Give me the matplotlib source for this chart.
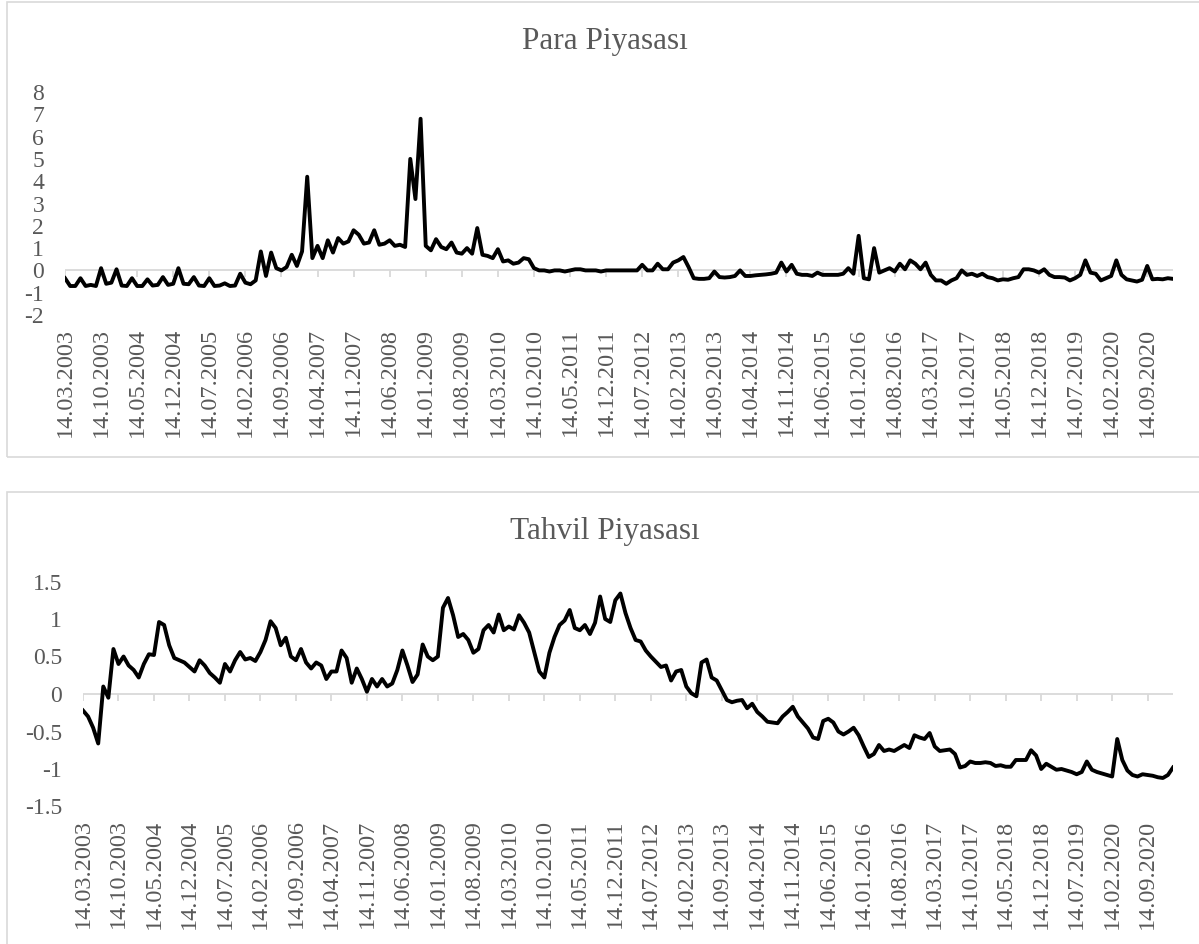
import matplotlib
matplotlib.use("Agg")
import matplotlib.pyplot as plt
from matplotlib.patches import Rectangle

plt.rcParams['font.family'] = ['Liberation Serif', 'DejaVu Serif']

# monthly observations, first one is 14.03.2003
start_year, start_month = 2003, 3

para = [
    -0.35, -0.7, -0.7, -0.35, -0.7, -0.65, -0.7, 0.1, -0.6, -0.55,
    0.05, -0.68, -0.7, -0.35, -0.7, -0.7, -0.4, -0.68, -0.65, -0.3,
    -0.65, -0.6, 0.1, -0.6, -0.62, -0.3, -0.68, -0.7, -0.35, -0.7,
    -0.68, -0.58, -0.7, -0.68, -0.15, -0.55, -0.62, -0.45, 0.85, -0.25,
    0.8, 0.1, 0.0, 0.15, 0.7, 0.2, 0.85, 4.2, 0.55, 1.1,
    0.55, 1.35, 0.8, 1.45, 1.2, 1.3, 1.8, 1.6, 1.2, 1.25,
    1.8, 1.15, 1.2, 1.35, 1.1, 1.15, 1.05, 5.0, 3.2, 6.8,
    1.1, 0.9, 1.4, 1.05, 0.95, 1.25, 0.8, 0.75, 1.0, 0.75,
    1.9, 0.7, 0.65, 0.55, 0.95, 0.4, 0.45, 0.3, 0.35, 0.55,
    0.5, 0.1, 0.0, 0.0, -0.05, 0.0, 0.0, -0.05, 0.0, 0.05,
    0.05, 0.0, 0.0, 0.0, -0.05, 0.0, 0.0, 0.0, 0.0, 0.0,
    0.0, 0.0, 0.25, 0.0, 0.0, 0.3, 0.05, 0.05, 0.35, 0.45,
    0.6, 0.15, -0.35, -0.38, -0.38, -0.35, -0.05, -0.3, -0.32, -0.3,
    -0.25, 0.0, -0.25, -0.25, -0.22, -0.2, -0.18, -0.15, -0.1, 0.35,
    -0.05, 0.25, -0.15, -0.2, -0.2, -0.25, -0.1, -0.2, -0.2, -0.2,
    -0.2, -0.15, 0.1, -0.15, 1.55, -0.35, -0.4, 1.0, -0.1, 0.0,
    0.1, -0.05, 0.3, 0.05, 0.45, 0.3, 0.05, 0.35, -0.2, -0.45,
    -0.45, -0.6, -0.45, -0.35, 0.0, -0.2, -0.15, -0.25, -0.15, -0.3,
    -0.35, -0.45, -0.4, -0.42, -0.35, -0.3, 0.05, 0.05, 0.0, -0.1,
    0.05, -0.2, -0.3, -0.3, -0.32, -0.45, -0.35, -0.2, 0.45, -0.1,
    -0.15, -0.45, -0.35, -0.25, 0.45, -0.2, -0.4, -0.45, -0.5, -0.42,
    0.2, -0.4, -0.38, -0.4, -0.35, -0.38,
]

tahvil = [
    -0.22, -0.3, -0.45, -0.66, 0.1, -0.05, 0.6, 0.4, 0.5, 0.38,
    0.32, 0.22, 0.4, 0.53, 0.52, 0.96, 0.92, 0.65, 0.48, 0.45,
    0.42, 0.36, 0.3, 0.45, 0.38, 0.28, 0.22, 0.15, 0.4, 0.3,
    0.45, 0.56, 0.46, 0.48, 0.44, 0.56, 0.72, 0.97, 0.88, 0.65,
    0.75, 0.5, 0.45, 0.6, 0.42, 0.34, 0.42, 0.38, 0.2, 0.3,
    0.3, 0.58, 0.48, 0.15, 0.34, 0.2, 0.03, 0.2, 0.1, 0.2,
    0.1, 0.14, 0.32, 0.58, 0.38, 0.16, 0.26, 0.66, 0.5, 0.45,
    0.5, 1.15, 1.28, 1.05, 0.76, 0.8, 0.72, 0.55, 0.6, 0.85,
    0.92, 0.82, 1.06, 0.85, 0.9, 0.86, 1.05, 0.95, 0.82, 0.56,
    0.3, 0.22, 0.55, 0.76, 0.92, 0.98, 1.12, 0.88, 0.85, 0.92,
    0.8, 0.95, 1.3, 1.0, 0.96, 1.25, 1.34, 1.08, 0.88, 0.72,
    0.7, 0.58, 0.5, 0.43, 0.36, 0.38, 0.18, 0.3, 0.32, 0.1,
    0.01, -0.03, 0.42, 0.46, 0.22, 0.18, 0.05, -0.08, -0.11, -0.09,
    -0.08, -0.19, -0.13, -0.24, -0.3, -0.37, -0.38, -0.39, -0.3, -0.24,
    -0.17, -0.3, -0.38, -0.46, -0.58, -0.6, -0.36, -0.33, -0.38, -0.5,
    -0.54, -0.5, -0.45, -0.55, -0.7, -0.84, -0.8, -0.68, -0.76, -0.74,
    -0.76, -0.72, -0.68, -0.72, -0.55, -0.58, -0.6, -0.52, -0.7, -0.76,
    -0.75, -0.74, -0.8, -0.98, -0.96, -0.9, -0.92, -0.92, -0.91, -0.92,
    -0.96, -0.95, -0.97, -0.97, -0.88, -0.88, -0.88, -0.75, -0.82, -1.0,
    -0.93, -0.97, -1.01, -1.0, -1.02, -1.04, -1.07, -1.04, -0.9, -1.01,
    -1.04, -1.06, -1.08, -1.1, -0.6, -0.88, -1.02, -1.08, -1.1, -1.07,
    -1.08, -1.09, -1.11, -1.12, -1.08, -0.98,
]

label_step = 7
para_yticks = [-2, -1, 0, 1, 2, 3, 4, 5, 6, 7, 8]
tahvil_yticks = [-1.5, -1, -0.5, 0, 0.5, 1, 1.5]

W, H = 1199, 944
gray = '#595959'
light = '#d9d9d9'


def date_label(i):
    m = start_month - 1 + i
    return f"14.{m % 12 + 1:02d}.{start_year + m // 12}"


def fmt(v):
    return f"{v:g}"


def draw(ax, values, yticks, title, title_y, ax_h_px):
    n = len(values)
    x = list(range(n))
    ax.axhline(0, color=light, lw=1.3, zorder=1)
    pos = list(range(0, n, label_step))
    # small tick marks hanging from the zero line
    tr = ax.get_xaxis_transform()
    y0 = (0 - yticks[0]) / (yticks[-1] - yticks[0])
    ax.vlines(pos, y0 - 7 / ax_h_px, y0, transform=tr, color=light, lw=1.3, zorder=1)
    ax.plot(x, values, color='black', lw=2.8, solid_joinstyle='round', zorder=3)
    ax.set_xlim(0, n - 1)
    ax.set_ylim(yticks[0], yticks[-1])
    ax.set_xticks([])
    ax.set_yticks(yticks)
    ax.set_yticklabels([fmt(v) for v in yticks])
    ax.tick_params(axis='y', length=0, pad=15, labelsize=17, labelcolor=gray)
    for s in ax.spines.values():
        s.set_visible(False)
    for p in pos:
        ax.text(p, -13 / ax_h_px, date_label(p), transform=tr, rotation=90,
                ha='center', va='top', fontsize=17.5, color=gray)
    fig.text(605 / W, 1 - title_y / H, title, ha='center', va='center',
             fontsize=22.5, color=gray)


fig = plt.figure(figsize=(W / 100, H / 100), dpi=100)

# chart frames
fig.patches.append(Rectangle((7 / W, 1 - 457 / H), 1.2, 455 / H, transform=fig.transFigure,
                             fill=False, edgecolor=light, lw=1.2))
fig.patches.append(Rectangle((7 / W, -0.1), 1.2, 0.1 + 1 - 492 / H, transform=fig.transFigure,
                             fill=False, edgecolor=light, lw=1.2))

ax1 = fig.add_axes([65 / W, 1 - 315 / H, 1108 / W, 223 / H])
draw(ax1, para, para_yticks, 'Para Piyasası', 42, 223)

ax2 = fig.add_axes([83 / W, 1 - 806.5 / H, 1090 / W, 225 / H])
draw(ax2, tahvil, tahvil_yticks, 'Tahvil Piyasası', 532, 225)

fig.savefig('out.png', dpi=100)
